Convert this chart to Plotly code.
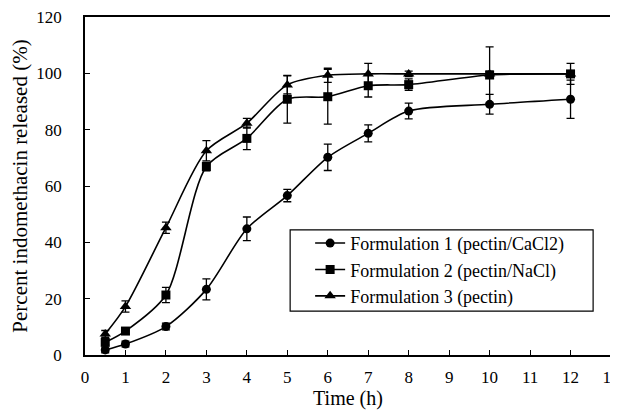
import plotly.graph_objects as go

time_h = [0.5, 1, 2, 3, 4, 5, 6, 7, 8, 10, 12]

f1_mean = [1.8, 3.9, 10.1, 23.3, 44.8, 56.6, 70.2, 78.7, 86.6, 89.0, 90.8]
f1_err = [1.0, 1.0, 1.2, 3.7, 4.2, 2.2, 4.7, 3.0, 2.8, 3.5, 6.8]

f2_mean = [4.5, 8.5, 21.3, 66.9, 76.9, 90.8, 91.7, 95.6, 96.0, 99.4, 99.8]
f2_err = [1.0, 1.0, 2.7, 1.5, 4.0, 8.5, 9.7, 4.0, 2.0, 10.0, 3.7]

f3_mean = [7.5, 17.2, 45.2, 72.5, 82.3, 95.9, 99.3, 99.8, 99.8, 99.8, 99.8]
f3_err = [1.2, 2.0, 2.0, 3.6, 1.7, 3.2, 2.5, 3.7, 1.0, 1.0, 1.0]

names = ["Formulation 1 (pectin/CaCl2)", "Formulation 2 (pectin/NaCl)", "Formulation 3 (pectin)"]
symbols = ["circle", "square", "triangle-up"]

x_ticks = list(range(0, 14))
y_ticks = [0, 20, 40, 60, 80, 100, 120]

fig = go.Figure()
for name, ys, es, sym in zip(names, [f1_mean, f2_mean, f3_mean], [f1_err, f2_err, f3_err], symbols):
    fig.add_trace(go.Scatter(
        x=time_h, y=ys, name=name, mode="lines+markers",
        line=dict(color="black", width=1.6, shape="spline", smoothing=0.8),
        marker=dict(symbol=sym, size=9 if sym != "triangle-up" else 10, color="black"),
        error_y=dict(type="data", array=es, visible=True, color="black", thickness=1.3, width=4),
    ))

font_family = "Liberation Serif, Times New Roman, serif"
fig.update_layout(
    width=618, height=406,
    margin=dict(l=77, r=15, t=9, b=59),
    paper_bgcolor="white", plot_bgcolor="white",
    font=dict(family=font_family, size=17, color="black"),
    xaxis=dict(
        range=[0, 13], tickvals=x_ticks, ticks="inside", ticklen=5, tickcolor="black",
        showline=True, linecolor="black", linewidth=1.5, mirror=True, showgrid=False, zeroline=False,
        title=dict(text="Time (h)", font=dict(size=20), standoff=4),
        tickfont=dict(size=17), automargin=False, ticklabelstandoff=6,
        ticklabeloverflow="allow",
    ),
    yaxis=dict(
        range=[0, 120], tickvals=y_ticks, ticks="inside", ticklen=5, tickcolor="black",
        showline=True, linecolor="black", linewidth=1.5, mirror=True, showgrid=False, zeroline=False,
        title=dict(text="Percent indomethacin released (%)", font=dict(size=21), standoff=4),
        tickfont=dict(size=17), automargin=False, ticklabelstandoff=18,
        ticklabeloverflow="allow",
    ),
    legend=dict(
        x=0.428, y=0.385, xanchor="left", yanchor="top",
        borderwidth=0, bgcolor="rgba(0,0,0,0)",
        font=dict(size=18), itemwidth=30, tracegroupgap=0,
    ),
    shapes=[dict(
        type="rect", xref="paper", yref="paper",
        x0=0.390, x1=0.966, y0=0.130, y1=0.370,
        line=dict(color="black", width=1.2), fillcolor="white", layer="below",
    )],
    showlegend=True,
)

fig.write_html("out.html")
